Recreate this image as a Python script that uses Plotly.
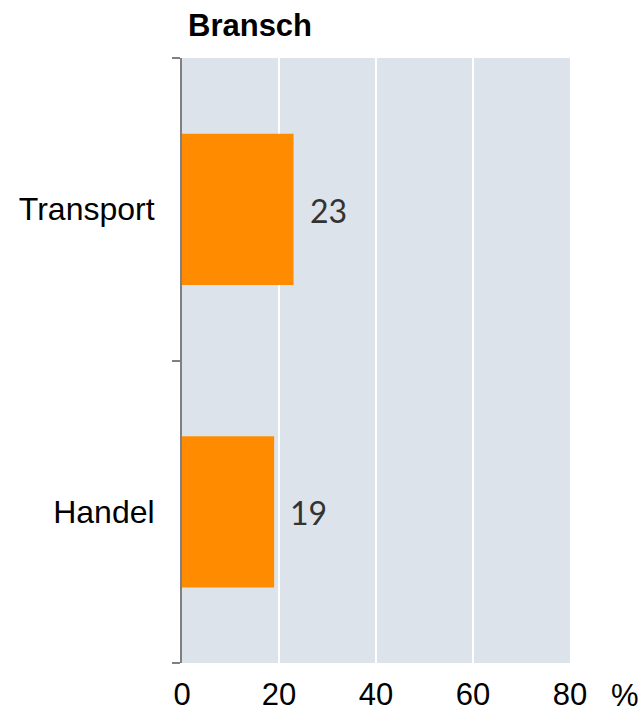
import plotly.graph_objects as go

categories = ["Transport", "Handel"]
values = [23, 19]
x_ticks = [0, 20, 40, 60, 80]

fig = go.Figure()
fig.add_trace(go.Bar(
    y=categories, x=values, orientation="h",
    marker=dict(color="#FF8C00", line=dict(width=0)),
    width=0.5,
))

for c, v in zip(categories, values):
    fig.add_annotation(x=v, y=c, text=str(v), showarrow=False,
                       xanchor="left", xshift=14, yshift=-1,
                       font=dict(family="Lato", size=32, color="#333333"))

fig.add_annotation(xref="paper", yref="paper", x=(625 - 182) / 388, y=-(695 - 663) / 605,
                   text="%", showarrow=False, xanchor="center", yanchor="middle",
                   font=dict(family="Liberation Sans, Arial", size=31, color="#000000"))

fig.update_layout(
    width=641, height=712,
    margin=dict(l=182, r=71, t=58, b=49),
    paper_bgcolor="white", plot_bgcolor="#DDE3EA",
    showlegend=False,
    title=dict(text="<b>Bransch</b>", x=188/641, xanchor="left", xref="container",
               y=1-25/712, yref="container", yanchor="middle",
               font=dict(family="Liberation Sans, Arial", size=31, color="#000000")),
    font=dict(family="Liberation Sans, Arial", size=31, color="#000000"),
)
fig.update_xaxes(range=[0, 80], tickvals=x_ticks, showgrid=True, gridcolor="white",
                 gridwidth=2, zeroline=False, showline=False, ticks="",
                 ticklabelstandoff=10, automargin=False,
                 tickfont=dict(family="Liberation Sans, Arial", size=31, color="#000000"))
fig.update_yaxes(categoryorder="array", categoryarray=categories[::-1],
                 showline=True, linecolor="#808080", linewidth=2,
                 ticks="outside", tickson="boundaries", ticklen=8, tickcolor="#808080",
                 tickwidth=2, showgrid=False, ticklabelstandoff=19, automargin=False,
                 tickfont=dict(family="Liberation Sans, Arial", size=32, color="#000000"))

fig.write_html("out.html", config={"displayModeBar": False},
               post_script="document.body.style.margin='0';")
